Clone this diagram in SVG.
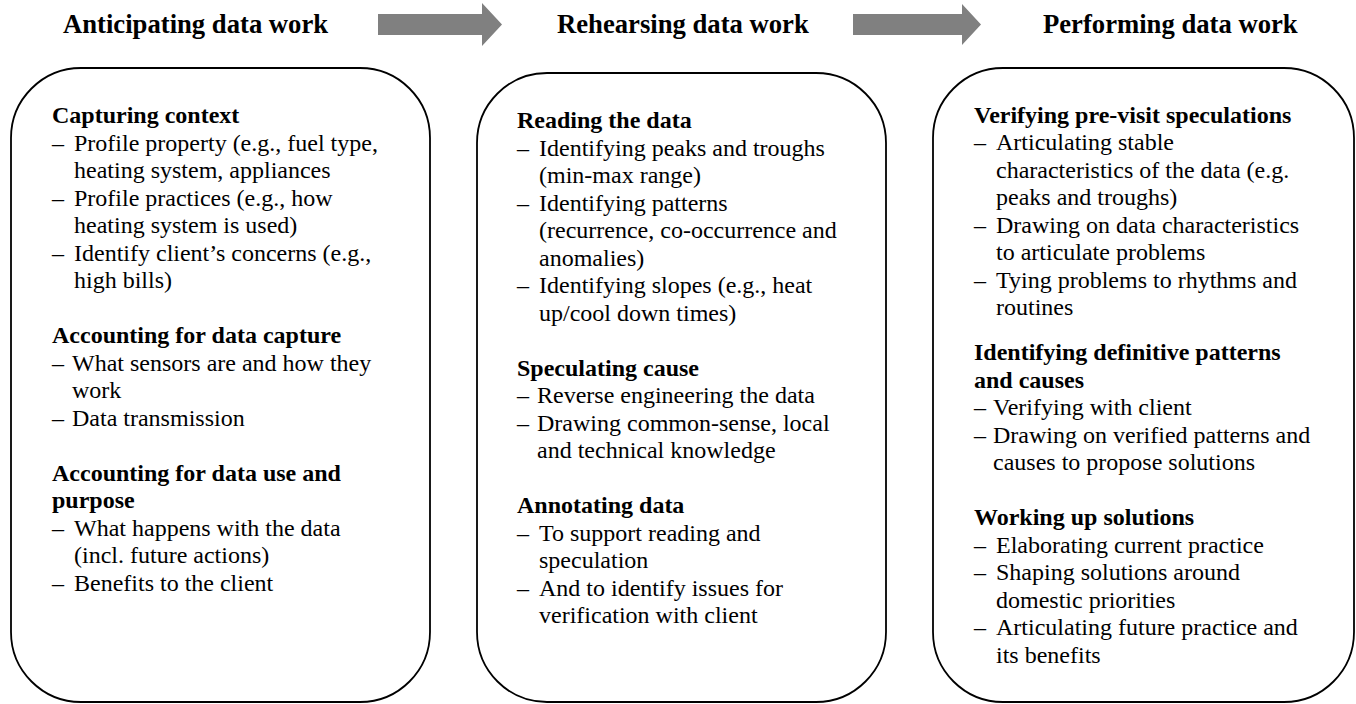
<svg xmlns="http://www.w3.org/2000/svg" width="1356" height="704" viewBox="0 0 1356 704">
<style>
text{font-family:"Liberation Serif","Times New Roman",serif;fill:#000}
.h{font-size:26.67px;font-weight:bold}
.b{font-size:24px;font-weight:bold}
.t{font-size:24px}
.box{fill:#fff;stroke:#000;stroke-width:1.8}
.arrow{fill:#808080;stroke:none}
</style>
<rect width="1356" height="704" fill="#fff"/>
<g id="connectors">
<polygon class="arrow" points="378,14 482,14 482,3 502,24.5 482,46 482,35 378,35"/>
<polygon class="arrow" points="853,14 962,14 962,4 981,24.5 962,45 962,35 853,35"/>
</g>
<g id="heading-anticipating"><text class="h" x="63" y="33">Anticipating data work</text></g>
<g id="heading-rehearsing"><text class="h" x="557" y="33">Rehearsing data work</text></g>
<g id="heading-performing"><text class="h" x="1043" y="33">Performing data work</text></g>
<g id="box-anticipating">
<rect class="box" x="11" y="68" width="419" height="634" rx="70" ry="70"/>
<text class="b" x="52" y="123">Capturing context</text>
<text class="t" y="150.5"><tspan x="52">–</tspan><tspan x="74">Profile property (e.g., fuel type,</tspan></text>
<text class="t" x="74" y="178">heating system, appliances</text>
<text class="t" y="205.5"><tspan x="52">–</tspan><tspan x="74">Profile practices (e.g., how</tspan></text>
<text class="t" x="74" y="233">heating system is used)</text>
<text class="t" y="260.5"><tspan x="52">–</tspan><tspan x="74">Identify client’s concerns (e.g.,</tspan></text>
<text class="t" x="74" y="288">high bills)</text>
<text class="b" x="52" y="343">Accounting for data capture</text>
<text class="t" y="370.5"><tspan x="52">–</tspan><tspan x="72">What sensors are and how they</tspan></text>
<text class="t" x="72" y="398">work</text>
<text class="t" y="425.5"><tspan x="52">–</tspan><tspan x="72">Data transmission</tspan></text>
<text class="b" x="52" y="480.5">Accounting for data use and</text>
<text class="b" x="52" y="508">purpose</text>
<text class="t" y="535.5"><tspan x="52">–</tspan><tspan x="74">What happens with the data</tspan></text>
<text class="t" x="74" y="563">(incl. future actions)</text>
<text class="t" y="590.5"><tspan x="52">–</tspan><tspan x="74">Benefits to the client</tspan></text>
</g>
<g id="box-rehearsing">
<rect class="box" x="477" y="73" width="409" height="629" rx="70" ry="70"/>
<text class="b" x="517" y="128">Reading the data</text>
<text class="t" y="155.5"><tspan x="517">–</tspan><tspan x="539">Identifying peaks and troughs</tspan></text>
<text class="t" x="539" y="183">(min-max range)</text>
<text class="t" y="210.5"><tspan x="517">–</tspan><tspan x="539">Identifying patterns</tspan></text>
<text class="t" x="539" y="238">(recurrence, co-occurrence and</text>
<text class="t" x="539" y="265.5">anomalies)</text>
<text class="t" y="293"><tspan x="517">–</tspan><tspan x="539">Identifying slopes (e.g., heat</tspan></text>
<text class="t" x="539" y="320.5">up/cool down times)</text>
<text class="b" x="517" y="375.5">Speculating cause</text>
<text class="t" y="403"><tspan x="517">–</tspan><tspan x="537">Reverse engineering the data</tspan></text>
<text class="t" y="430.5"><tspan x="517">–</tspan><tspan x="537">Drawing common-sense, local</tspan></text>
<text class="t" x="537" y="458">and technical knowledge</text>
<text class="b" x="517" y="513">Annotating data</text>
<text class="t" y="540.5"><tspan x="517">–</tspan><tspan x="539">To support reading and</tspan></text>
<text class="t" x="539" y="568">speculation</text>
<text class="t" y="595.5"><tspan x="517">–</tspan><tspan x="539">And to identify issues for</tspan></text>
<text class="t" x="539" y="623">verification with client</text>
</g>
<g id="box-performing">
<rect class="box" x="933" y="68" width="421" height="634" rx="70" ry="70"/>
<text class="b" x="974" y="122.5">Verifying pre-visit speculations</text>
<text class="t" y="150"><tspan x="974">–</tspan><tspan x="996">Articulating stable</tspan></text>
<text class="t" x="996" y="177.5">characteristics of the data (e.g.</text>
<text class="t" x="996" y="205">peaks and troughs)</text>
<text class="t" y="232.5"><tspan x="974">–</tspan><tspan x="996">Drawing on data characteristics</tspan></text>
<text class="t" x="996" y="260">to articulate problems</text>
<text class="t" y="287.5"><tspan x="974">–</tspan><tspan x="996">Tying problems to rhythms and</tspan></text>
<text class="t" x="996" y="315">routines</text>
<text class="b" x="974" y="360">Identifying definitive patterns</text>
<text class="b" x="974" y="387.5">and causes</text>
<text class="t" y="415"><tspan x="974">–</tspan><tspan x="993">Verifying with client</tspan></text>
<text class="t" y="442.5"><tspan x="974">–</tspan><tspan x="993">Drawing on verified patterns and</tspan></text>
<text class="t" x="993" y="470">causes to propose solutions</text>
<text class="b" x="974" y="525">Working up solutions</text>
<text class="t" y="552.5"><tspan x="974">–</tspan><tspan x="996">Elaborating current practice</tspan></text>
<text class="t" y="580"><tspan x="974">–</tspan><tspan x="996">Shaping solutions around</tspan></text>
<text class="t" x="996" y="607.5">domestic priorities</text>
<text class="t" y="635"><tspan x="974">–</tspan><tspan x="996">Articulating future practice and</tspan></text>
<text class="t" x="996" y="662.5">its benefits</text>
</g>
</svg>
